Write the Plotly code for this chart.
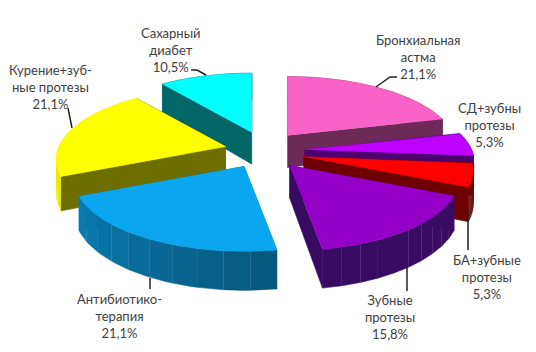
import numpy as np
import plotly.graph_objects as go

categories = ["Бронхиальная<br>астма", "СД+зубны<br>протезы", "БА+зубные<br>протезы",
              "Зубные<br>протезы", "Антибиотико-<br>терапия",
              "Курение+зуб-<br>ные протезы", "Сахарный<br>диабет"]
values = [21.1, 5.3, 5.3, 15.8, 21.1, 21.1, 10.5]
pulls = [0.19, 0.22, 0.22, 0.21, 0.30, 0.26, 0.30]
lifts = [-5, 0, 2, 3, -3, 0, 1]
top_colors = ["#fb62c8", "#bd00ff", "#ff0000", "#9400c8", "#0aa6ee", "#ffff00", "#00ffff"]
side_colors = ["#6d2a58", "#4c0070", "#6e0000", "#380a62", "#0a7fb6", "#6e6e00", "#006668"]
arc_colors = ["#6d2a58", "#4c0070", "#6e0000", "#380a62", "#0a7fb6", "#eaea00", "#006668"]
label_x = [418, 489, 487, 390, 119, 50, 171]
label_y = [57, 125, 277, 317, 316, 87, 50]
leaders = [([397, 390, 376], [77, 77, 87]), ([468, 468], [207, 250]), ([407, 407], [266, 291]),
           ([150, 150], [278, 289]), ([68, 72], [108, 128]), ([191, 197, 206], [70, 70, 75])]
draw_order = [6, 5, 4, 0, 1, 2, 3]

CX, CY = 268, 151
RX, RY, K, DEPTH = 167, 69.7, 0.18, 32


def project(X, Y, z=0.0):
    s = 1 / (1 + K * Y)
    return RX * X * s, -RY * Y * s + z * DEPTH * s


def shade(color, f):
    c = np.array([int(color[i:i + 2], 16) for i in (1, 3, 5)]) * f
    return "#%02x%02x%02x" % tuple(int(min(255, v)) for v in c)


fig = go.Figure()


def poly(xs, ys, color):
    fig.add_trace(go.Scatter(x=np.asarray(xs), y=np.asarray(ys), mode="lines", fill="toself",
                             fillcolor=color, line=dict(color=color, width=0.5),
                             hoverinfo="skip", showlegend=False))


edges = np.radians(np.concatenate([[0], np.cumsum(values)]) / sum(values) * 360)

for i in draw_order:
    a0, a1 = edges[i], edges[i + 1]
    mid = (a0 + a1) / 2
    ox = CX + RX * pulls[i] * np.sin(mid)
    oy = CY - RY * pulls[i] * np.cos(mid) + lifts[i]
    th = np.linspace(a0, a1, 41)
    X, Y = np.sin(th), np.cos(th)

    # radial walls
    for a in (a0, a1):
        p1 = project(np.sin(a), np.cos(a))
        q1 = project(np.sin(a), np.cos(a), 1)
        poly([ox, ox + p1[0], ox + q1[0], ox], [oy, oy + p1[1], oy + q1[1], oy + DEPTH], side_colors[i])

    # outer wall in shaded bands
    step = 4
    for j in range(0, len(th) - 1, step):
        idx = np.arange(j, min(j + step, len(th) - 1) + 1)
        tx, ty = project(X[idx], Y[idx])
        bx, by = project(X[idx], Y[idx], 1)
        f = 0.7 + 0.3 * (j / len(th)) if i == 4 else 1.0
        poly(ox + np.r_[tx, bx[::-1]], oy + np.r_[ty, by[::-1]], shade(arc_colors[i], f))

    # top face
    tx, ty = project(X, Y)
    poly(np.r_[ox, ox + tx], np.r_[oy, oy + ty], top_colors[i])

for lx, ly in leaders:
    fig.add_trace(go.Scatter(x=lx, y=ly, mode="lines", line=dict(color="#222222", width=1.5),
                             hoverinfo="skip", showlegend=False))

for c, v, x, y in zip(categories, values, label_x, label_y):
    fig.add_annotation(x=x, y=y, text=f"{c}<br>{v:.1f}%".replace(".", ","), showarrow=False,
                       font=dict(family="Lato", size=13, color="#404040"), align="center")

fig.update_layout(width=536, height=352, margin=dict(l=0, r=0, t=0, b=0),
                  paper_bgcolor="white", plot_bgcolor="white", showlegend=False,
                  xaxis=dict(range=[0, 536], visible=False, fixedrange=True),
                  yaxis=dict(range=[352, 0], visible=False, fixedrange=True))
fig.write_html("out.html", config=dict(displayModeBar=False),
               post_script="document.body.style.margin='0';")
